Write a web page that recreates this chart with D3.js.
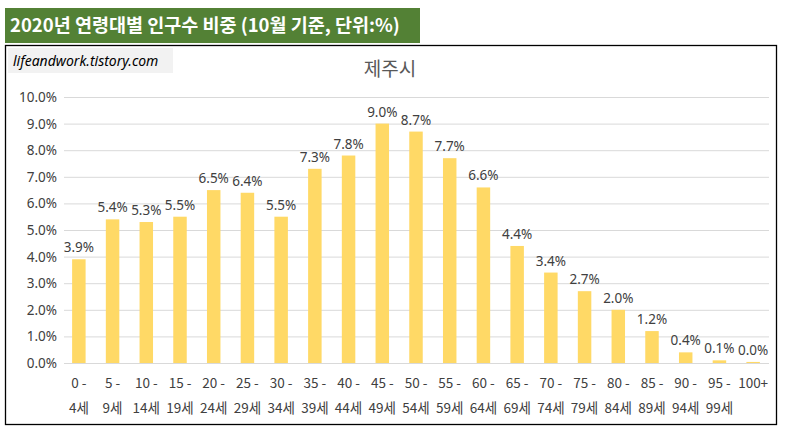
<!DOCTYPE html>
<html><head><meta charset="utf-8">
<script src="https://cdn.jsdelivr.net/npm/d3@7"></script>
<style>body{margin:0;background:#fff;font-family:"Noto Sans CJK KR","Noto Sans",sans-serif}</style>
</head><body><svg id="c" width="789" height="440"></svg>
<script>
const categories=[["0 -","4세"],["5 -","9세"],["10 -","14세"],["15 -","19세"],["20 -","24세"],["25 -","29세"],["30 -","34세"],["35 -","39세"],["40 -","44세"],["45 -","49세"],["50 -","54세"],["55 -","59세"],["60 -","64세"],["65 -","69세"],["70 -","74세"],["75 -","79세"],["80 -","84세"],["85 -","89세"],["90 -","94세"],["95 -","99세"],["100+",""]];
const values=[3.9,5.4,5.3,5.5,6.5,6.4,5.5,7.3,7.8,9.0,8.7,7.7,6.6,4.4,3.4,2.7,2.0,1.2,0.4,0.1,0.04];
const yTicks=[0,1,2,3,4,5,6,7,8,9,10];
const svg=d3.select("#c");
svg.append("rect").attr("x",5).attr("y",8).attr("width",415).attr("height",35).attr("fill","#538135");
svg.append("text").attr("x",10).attr("y",32).attr("fill","#fff").attr("font-size",18.5).attr("font-weight","bold").text("2020년 연령대별 인구수 비중 (10월 기준, 단위:%)");
svg.append("rect").attr("x",5.5).attr("y",45.5).attr("width",771).attr("height",379).attr("fill","none").attr("stroke","#000").attr("stroke-width",1.3);
svg.append("rect").attr("x",8).attr("y",48).attr("width",165).attr("height",25).attr("fill","#f2f2f2");
svg.append("text").attr("x",13).attr("y",66).attr("font-size",14).attr("font-style","italic").attr("font-family","Noto Sans").attr("fill","#000").text("lifeandwork.tistory.com");
svg.append("text").attr("x",390).attr("y",76).attr("text-anchor","middle").attr("font-size",19).attr("fill","#595959").text("제주시");
const x=d3.scaleBand().domain(d3.range(categories.length)).range([62,770]).paddingInner(0.6).paddingOuter(0.3);
const y=d3.scaleLinear().domain([0,10]).range([363,97]);
const g=svg.append("g");
g.selectAll("line.g").data(yTicks).join("line").attr("x1",64).attr("x2",769).attr("y1",d=>y(d)+.5).attr("y2",d=>y(d)+.5).attr("stroke","#d9d9d9");
g.selectAll("text.y").data(yTicks).join("text").attr("x",57).attr("y",d=>y(d)+5).attr("text-anchor","end").attr("font-size",13.5).attr("font-family","Noto Sans").attr("fill","#404040").text(d=>d.toFixed(1)+"%");
g.selectAll("rect.b").data(values).join("rect").attr("x",(d,i)=>x(i)).attr("width",x.bandwidth()).attr("y",d=>y(d)).attr("height",d=>y(0)-y(d)).attr("fill","#ffd966");
g.selectAll("text.v").data(values).join("text").attr("x",(d,i)=>x(i)+x.bandwidth()/2).attr("y",d=>y(d)-7).attr("text-anchor","middle").attr("font-size",13.5).attr("font-family","Noto Sans").attr("fill","#404040").text(d=>d.toFixed(1)+"%");
categories.forEach((c,i)=>{
  c.forEach((t,j)=>{
    g.append("text").attr("x",x(i)+x.bandwidth()/2).attr("y",388+j*25).attr("text-anchor","middle").attr("font-size",13.5).attr("fill","#404040").text(t);
  });
});
</script></body></html>
